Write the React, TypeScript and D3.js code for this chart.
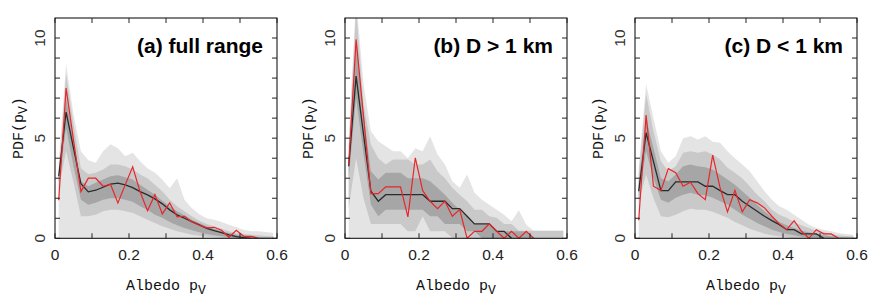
import * as d3 from 'd3'
import React from 'react'

// albedo bin centres (bin width 0.02)
const bins = [0.01, 0.03, 0.05, 0.07, 0.09, 0.11, 0.13, 0.15, 0.17, 0.19, 0.21, 0.23, 0.25, 0.27, 0.29,
    0.31, 0.33, 0.35, 0.37, 0.39, 0.41, 0.43, 0.45, 0.47, 0.49, 0.51, 0.53, 0.55, 0.57, 0.59];

const xTicks = [0, 0.1, 0.2, 0.3, 0.4, 0.5, 0.6];
const xTickLabels = [0, 0.2, 0.4, 0.6];
const yTicks = [0, 1, 2, 3, 4, 5, 6, 7, 8, 9, 10];
const yTickLabels = [0, 5, 10];

// (a) full range
const obsA = [1.9, 7.5, 4.9, 2.33, 3.0, 3.0, 2.6, 2.7, 1.77, 2.68, 3.57, 2.32, 1.38, 2.18, 1.22, 1.77, 1.07, 1.1, 0.82, 0.65,
    0.52, 0.55, 0.4, 0.05, 0.4, 0.1, 0.1, 0, null, null];
const medA = [3.1, 6.3, 4.5, 2.73, 2.32, 2.4, 2.55, 2.7, 2.75, 2.67, 2.53, 2.33, 2.17, 1.97, 1.72, 1.42, 1.17, 1.0, 0.83, 0.67,
    0.5, 0.38, 0.28, 0.17, 0.08, 0.03, 0, null, null, null];
const hi3A = [3.8, 8.7, 6.2, 4.35, 3.9, 3.77, 4.35, 4.7, 4.5, 4.1, 4.27, 3.85, 3.5, 3.27, 2.93, 2.5, 3.0, 1.93, 1.5, 1.2,
    1.0, 0.93, 0.82, 0.68, 0.55, 0.43, 0.35, 0.35, 0.32, 0.27];
const hi2A = [3.3, 8.2, 5.7, 3.5, 3.2, 3.27, 3.43, 3.68, 3.68, 3.6, 3.43, 3.18, 3.0, 2.68, 2.35, 1.93, 1.6, 1.35, 1.1, 0.88,
    0.72, 0.6, 0.48, 0.35, 0.27, 0.22, 0.18, 0.15, 0.12, 0.1];
const hi1A = [3.1, 7.0, 4.9, 2.85, 2.6, 2.77, 2.93, 3.1, 3.15, 3.05, 2.93, 2.68, 2.43, 2.18, 1.88, 1.6, 1.35, 1.15, 0.93, 0.77,
    0.6, 0.48, 0.35, 0.27, 0.18, 0.13, 0.1, 0.07, 0.05, 0.05];
const lo1A = [2.8, 5.5, 3.6, 1.93, 1.68, 1.77, 1.93, 2.0, 2.0, 1.93, 1.82, 1.6, 1.43, 1.18, 1.02, 0.82, 0.65, 0.52, 0.4, 0.3,
    0.22, 0.15, 0.1, 0.05, 0.02, 0, 0, 0, 0, 0];
const lo2A = [2.5, 4.35, 2.8, 1.1, 1.1, 1.18, 1.35, 1.43, 1.43, 1.35, 1.27, 1.1, 0.93, 0.77, 0.6, 0.48, 0.35, 0.27, 0.18, 0.13,
    0.08, 0.05, 0.02, 0, 0, 0, 0, 0, 0, 0];

// (b) D > 1 km
const obsB = [3.68, 9.93, 6.1, 2.23, 2.23, 2.57, 2.57, 2.57, 1.07, 4.02, 2.38, 1.85, 1.48, 1.85, 1.1, 1.43, 0, 0.35, 0.35, 0.72,
    0.35, 0, 0.35, 0, 0.35, 0, null, null, null, null];
const medB = [3.6, 8.1, 5.2, 2.35, 1.85, 2.18, 2.18, 2.18, 2.18, 2.18, 2.18, 1.85, 1.85, 1.85, 1.48, 1.48, 1.1, 0.72, 0.72, 0.72,
    0.35, 0.35, 0, null, null, null, null, null, null, null];
const hi3B = [5.0, 12, 7.7, 5.35, 4.85, 4.6, 4.35, 4.35, 4.0, 4.5, 4.35, 5.1, 4.18, 3.68, 2.85, 2.52, 3.18, 2.27, 1.93, 1.68,
    1.43, 1.18, 0.85, 1.4, 0.68, 0.38, 0.38, 0.38, 0.38, 0.38];
const hi2B = [4.5, 11.5, 6.7, 4.68, 4.0, 3.68, 3.93, 3.93, 3.93, 3.68, 3.68, 3.93, 3.35, 3.0, 2.52, 2.18, 1.85, 1.43, 1.43, 1.1,
    1.02, 0.72, 0.72, 0.38, 0.38, 0.38, 0.38, 0.38, 0.38, 0.38];
const hi1B = [4.0, 10, 6.2, 3.35, 2.93, 3.27, 3.27, 3.27, 3.0, 3.0, 3.0, 2.85, 2.52, 2.18, 1.77, 1.43, 1.1, 0.72, 0.72, 0.72,
    0.35, 0.35, 0.35, 0.35, 0.35, 0, 0, 0, 0, 0];
const lo1B = [3.0, 7.0, 4.2, 1.68, 1.1, 1.43, 1.43, 1.43, 1.43, 1.43, 1.43, 1.1, 1.1, 0.72, 0.72, 0.72, 0.35, 0.35, 0, 0,
    0, 0, 0, 0, 0, 0, 0, 0, 0, 0];
const lo2B = [1.5, 4.0, 2.0, 0.72, 0.72, 0.72, 0.72, 0.72, 0.35, 0.35, 1.1, 0.35, 0.35, 0.35, 0, 0, 0, 0, 0, 0,
    0, 0, 0, 0, 0, 0, 0, 0, 0, 0];

// (c) D < 1 km
const obsC = [0.9, 6.15, 2.6, 2.38, 3.48, 3.27, 2.6, 2.8, 2.23, 1.93, 4.15, 2.52, 1.32, 2.4, 1.32, 1.93, 1.77, 1.52, 1.1, 0.72,
    0.43, 0.88, 0.35, 0, 0.43, 0.22, 0.22, 0, null, null];
const medC = [2.35, 5.27, 3.83, 2.38, 2.38, 2.82, 2.82, 2.82, 2.82, 2.6, 2.6, 2.38, 2.18, 2.18, 1.85, 1.6, 1.35, 1.1, 0.88, 0.68,
    0.43, 0.43, 0.22, 0.22, 0.22, 0, null, null, null, null];
const hi3C = [3.5, 7.7, 6.0, 4.35, 3.77, 4.1, 5.0, 5.1, 4.93, 5.1, 4.82, 4.77, 4.35, 4.0, 3.68, 3.35, 2.85, 2.35, 1.93, 1.6,
    1.43, 1.18, 0.93, 0.68, 0.52, 0.43, 0.35, 0.27, 0.22, 0.18];
const hi2C = [3.2, 7.2, 5.35, 3.85, 3.35, 3.6, 4.27, 4.35, 4.27, 4.35, 4.18, 3.93, 3.52, 3.27, 3.0, 2.6, 2.18, 1.85, 1.43, 1.18,
    1.02, 0.82, 0.65, 0.52, 0.38, 0.32, 0.22, 0.15, 0.12, 0.1];
const hi1C = [2.8, 6.0, 4.5, 3.0, 2.85, 3.18, 3.6, 3.68, 3.6, 3.55, 3.43, 3.18, 2.93, 2.68, 2.35, 2.02, 1.68, 1.35, 1.05, 0.82,
    0.65, 0.52, 0.38, 0.3, 0.22, 0.15, 0.1, 0.07, 0.05, 0.03];
const lo1C = [2.0, 4.35, 3.0, 1.93, 1.77, 2.02, 2.18, 2.27, 2.18, 2.15, 2.02, 1.85, 1.68, 1.43, 1.18, 0.98, 0.77, 0.6, 0.43, 0.32,
    0.22, 0.15, 0.08, 0.04, 0.02, 0, 0, 0, 0, 0];
const lo2C = [1.8, 3.18, 2.0, 1.1, 1.05, 1.18, 1.35, 1.48, 1.43, 1.43, 1.32, 1.18, 1.02, 0.82, 0.65, 0.48, 0.35, 0.23, 0.15, 0.1,
    0.05, 0, 0, 0, 0, 0, 0, 0, 0, 0];

const panels = [
    { id: 'a', title: '(a) full range', left: 55, obs: obsA, med: medA, hi3: hi3A, hi2: hi2A, hi1: hi1A, lo1: lo1A, lo2: lo2A },
    { id: 'b', title: '(b) D > 1 km', left: 345, obs: obsB, med: medB, hi3: hi3B, hi2: hi2B, hi1: hi1B, lo1: lo1B, lo2: lo2B },
    { id: 'c', title: '(c) D < 1 km', left: 635, obs: obsC, med: medC, hi3: hi3C, hi2: hi2C, hi1: hi1C, lo1: lo1C, lo2: lo2C },
];

const W = 222;
const TOP = 18;
const BOTTOM = 238.3;
const monoFont = '"Liberation Mono", "DejaVu Sans Mono", monospace';
const sansFont = '"Liberation Sans", Arial, sans-serif';

const Panel: React.FC<{ p: typeof panels[number] }> = ({ p }) => {
    const x = d3.scaleLinear().domain([0, 0.6]).range([p.left, p.left + W]);
    const y = d3.scaleLinear().domain([0, 11]).range([BOTTOM, TOP]);

    const band = (lo: (number | null)[] | null, hi: (number | null)[]) =>
        d3.area<number>()
            .x(i => x(bins[i]))
            .y0(i => y(lo ? (lo[i] as number) : 0))
            .y1(i => y(hi[i] as number))(d3.range(bins.length)) || '';

    const line = (vals: (number | null)[]) =>
        d3.line<number>()
            .defined(i => vals[i] != null)
            .x(i => x(bins[i]))
            .y(i => y(vals[i] as number))(d3.range(bins.length)) || '';

    const clipId = `clip-${p.id}`;
    const tick = 5;

    return (
        <g>
            <defs>
                <clipPath id={clipId}>
                    <rect x={p.left} y={TOP} width={W} height={BOTTOM - TOP} />
                </clipPath>
            </defs>
            <g clipPath={`url(#${clipId})`}>
                <path d={band(null, p.hi3)} fill="#e4e4e4" />
                <path d={band(p.lo2, p.hi2)} fill="#c9c9c9" />
                <path d={band(p.lo1, p.hi1)} fill="#a6a6a6" />
                <path d={line(p.med)} fill="none" stroke="#2b2b2b" strokeWidth={1.3} />
                <path d={line(p.obs)} fill="none" stroke="#e8262a" strokeWidth={1.2} />
            </g>
            <rect x={p.left} y={TOP} width={W} height={BOTTOM - TOP} fill="none" stroke="#000" strokeWidth={1} />
            {xTicks.map(t => (
                <g key={`xt${t}`} stroke="#222">
                    <line x1={x(t)} x2={x(t)} y1={BOTTOM} y2={BOTTOM - tick} />
                    <line x1={x(t)} x2={x(t)} y1={TOP} y2={TOP + tick} />
                </g>
            ))}
            {yTicks.map(t => (
                <g key={`yt${t}`} stroke="#222">
                    <line x1={p.left} x2={p.left + tick} y1={y(t)} y2={y(t)} />
                    <line x1={p.left + W} x2={p.left + W - tick} y1={y(t)} y2={y(t)} />
                </g>
            ))}
            {xTickLabels.map(t => (
                <text key={`xl${t}`} x={x(t)} y={260} textAnchor="middle" fontFamily={sansFont} fontSize={15.5} fill="#222">
                    {t === 0 ? '0' : t.toFixed(1)}
                </text>
            ))}
            {yTickLabels.map(t => (
                <text key={`yl${t}`} transform={`translate(${p.left - 10},${y(t)}) rotate(-90)`} textAnchor="middle"
                    fontFamily={sansFont} fontSize={15.5} fill="#333">
                    {t}
                </text>
            ))}
            <text x={p.left + W - 14} y={53} textAnchor="end" fontFamily={sansFont} fontSize={21} fontWeight="bold" fill="#000">
                {p.title}
            </text>
            <text x={p.left + W / 2} y={290} textAnchor="middle" fontFamily={monoFont} fontSize={15} fill="#111">
                Albedo p<tspan dy={4} fontSize={13}>V</tspan>
            </text>
            <text transform={`translate(${p.left - 32},${(TOP + BOTTOM) / 2}) rotate(-90)`} textAnchor="middle"
                fontFamily={monoFont} fontSize={15} fill="#111">
                PDF(p<tspan dy={4} fontSize={13}>V</tspan><tspan dy={-4}>)</tspan>
            </text>
        </g>
    );
};

export default function App() {
    return (
        <svg width={882} height={306} style={{ position: 'absolute', left: 0, top: 0, background: '#fff' }}>
            {panels.map(p => <Panel key={p.id} p={p} />)}
        </svg>
    );
}
